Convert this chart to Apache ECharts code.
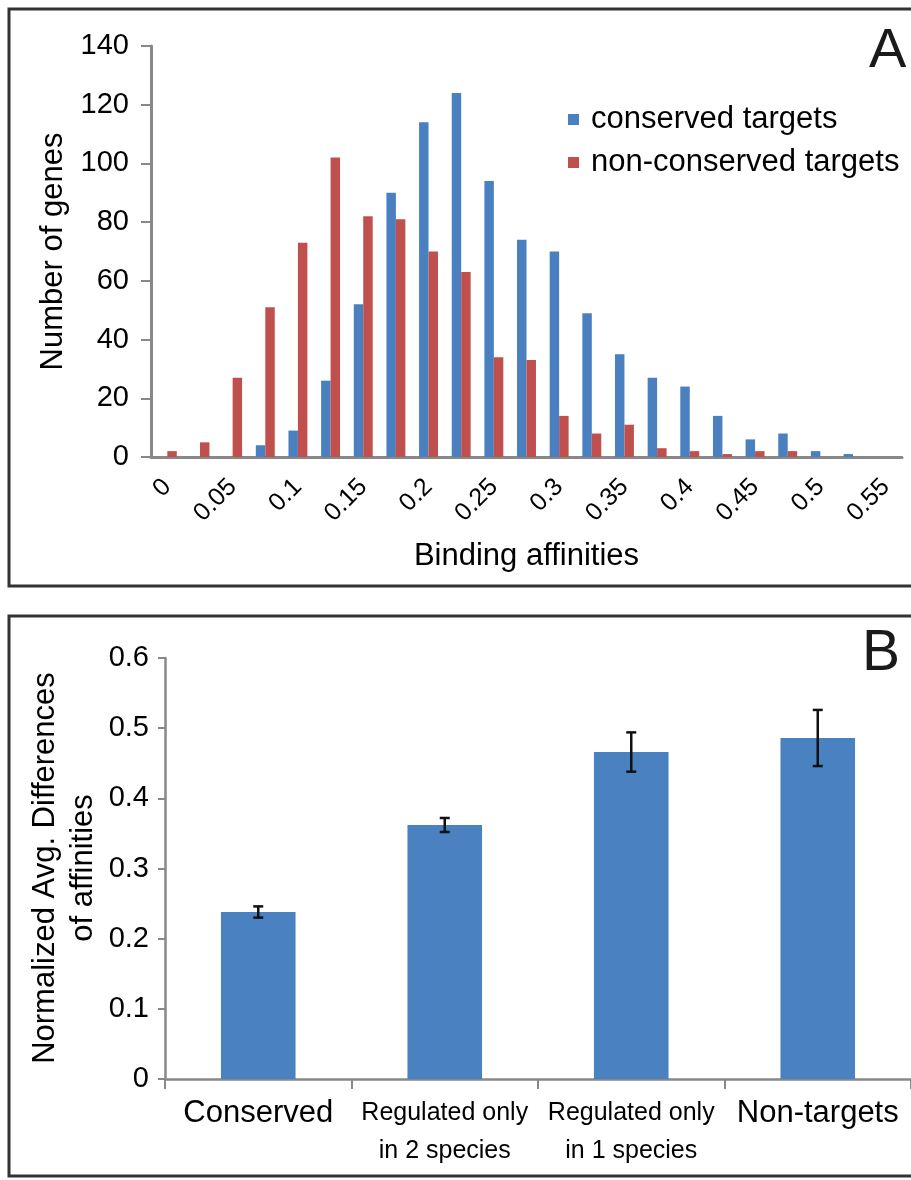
<!DOCTYPE html>
<html>
<head>
<meta charset="utf-8">
<script src="https://cdn.jsdelivr.net/npm/echarts@6/dist/echarts.min.js"></script>
<style>
html, body { margin: 0; padding: 0; background: #fff; }
#main { width: 911px; height: 1180px; }
</style>
</head>
<body>
<div id="main"></div>
<script>
// panel A: histogram of binding affinities
var affinities = ['0', '0.025', '0.05', '0.075', '0.1', '0.125', '0.15', '0.175', '0.2', '0.225', '0.25', '0.275',
    '0.3', '0.325', '0.35', '0.375', '0.4', '0.425', '0.45', '0.475', '0.5', '0.525', '0.55'];
var conservedGenes = [0, 0, 0, 4, 9, 26, 52, 90, 114, 124, 94, 74, 70, 49, 35, 27, 24, 14, 6, 8, 2, 1, 0];
var nonConservedGenes = [2, 5, 27, 51, 73, 102, 82, 81, 70, 63, 34, 33, 14, 8, 11, 3, 2, 1, 2, 2, 0, 0, 0];

// panel B: normalized average differences with error bars
var groups = ['Conserved', 'Regulated only\nin 2 species', 'Regulated only\nin 1 species', 'Non-targets'];
var avgDiff = [0.238, 0.362, 0.466, 0.486];
var errDiff = [0.008, 0.010, 0.028, 0.040];

var FONT = "'Liberation Sans', Arial, Helvetica, sans-serif";

var errData = [];
for (i = 0; i < avgDiff.length; i++) {
    errData.push([i, avgDiff[i] - errDiff[i], avgDiff[i] + errDiff[i]]);
}

var dom = document.getElementById('main');
var myChart = echarts.init(dom);
var option = {
    animation: false,
    textStyle: { fontFamily: FONT, color: '#000' },
    graphic: [
        { type: 'rect', shape: { x: 9, y: 9, width: 920, height: 577 },
          style: { fill: 'none', stroke: '#333', lineWidth: 3 } },
        { type: 'rect', shape: { x: 9, y: 616, width: 920, height: 560 },
          style: { fill: 'none', stroke: '#333', lineWidth: 3 } },
        { type: 'text', left: 869, top: 24, style: { text: 'A', fontSize: 56, fontFamily: FONT, fill: '#1a1a1a' } },
        { type: 'text', left: 862, top: 626, style: { text: 'B', fontSize: 57, fontFamily: FONT, fill: '#1a1a1a' } },
        // y name of panel B, placed by hand
        { type: 'text', x: 64, y: 868, rotation: Math.PI / 2,
          style: { text: 'Normalized Avg. Differences\nof affinities', fontSize: 31, fontFamily: FONT, fill: '#000',
                   lineHeight: 38, align: 'center', verticalAlign: 'middle' } }
    ],
    legend: {
        data: ['conserved targets', 'non-conserved targets'],
        orient: 'vertical',
        left: 563,
        top: 99,
        icon: 'rect',
        itemWidth: 11,
        itemHeight: 11,
        itemGap: 12,
        textStyle: { fontSize: 31, fontFamily: FONT, color: '#000', padding: [0, 0, 0, 7] }
    },
    grid: [
        { left: 151, top: 46, width: 751, height: 411 },
        { left: 165, top: 658, width: 750, height: 421 }
    ],
    xAxis: [
        {
            type: 'category',
            gridIndex: 0,
            data: affinities,
            name: 'Binding affinities',
            nameLocation: 'middle',
            nameGap: 84,
            nameTextStyle: { fontSize: 31, color: '#000' },
            axisLine: { lineStyle: { color: '#888', width: 3 } },
            axisTick: { show: false },
            axisLabel: { interval: 1, rotate: 45, fontSize: 25, color: '#000', margin: 26 }
        },
        {
            type: 'category',
            gridIndex: 1,
            data: groups,
            axisLine: { lineStyle: { color: '#888', width: 2.5 } },
            axisTick: { show: true, interval: 0, length: 10, lineStyle: { color: '#888', width: 2 } },
            axisLabel: {
                interval: 0,
                margin: 15,
                formatter: function (v) {
                    if (v.indexOf('\n') >= 0) {
                        return v.split('\n').map(function (s) { return '{n|' + s + '}'; }).join('\n');
                    }
                    return '{w|' + v + '}';
                },
                rich: {
                    w: { fontSize: 31, fontFamily: FONT, color: '#000', lineHeight: 38 },
                    n: { fontSize: 25, fontFamily: FONT, color: '#000', lineHeight: 38 }
                }
            }
        }
    ],
    yAxis: [
        {
            type: 'value',
            gridIndex: 0,
            min: 0,
            max: 140,
            interval: 20,
            name: 'Number of genes',
            nameLocation: 'middle',
            nameGap: 82,
            nameTextStyle: { fontSize: 31, color: '#000' },
            splitLine: { show: false },
            axisLine: { show: true, lineStyle: { color: '#888', width: 3 } },
            axisTick: { show: true, length: 10, lineStyle: { color: '#888', width: 2 } },
            axisLabel: { fontSize: 29, color: '#000', margin: 22 }
        },
        {
            type: 'value',
            gridIndex: 1,
            min: 0,
            max: 0.6,
            interval: 0.1,
            splitLine: { show: false },
            axisLine: { show: true, lineStyle: { color: '#888', width: 2.5 } },
            axisTick: { show: true, length: 7, lineStyle: { color: '#888', width: 2 } },
            axisLabel: { fontSize: 29, color: '#000', margin: 16 }
        }
    ],
    series: [
        {
            name: 'conserved targets',
            type: 'bar',
            xAxisIndex: 0,
            yAxisIndex: 0,
            data: conservedGenes,
            barGap: '0%',
            barCategoryGap: '42%',
            itemStyle: { color: '#4a7fc0' }
        },
        {
            name: 'non-conserved targets',
            type: 'bar',
            xAxisIndex: 0,
            yAxisIndex: 0,
            data: nonConservedGenes,
            barGap: '0%',
            barCategoryGap: '42%',
            itemStyle: { color: '#c0504d' }
        },
        {
            name: 'avg',
            type: 'bar',
            xAxisIndex: 1,
            yAxisIndex: 1,
            data: avgDiff,
            barCategoryGap: '60%',
            itemStyle: { color: '#4a81c0' }
        },
        {
            name: 'err',
            type: 'custom',
            xAxisIndex: 1,
            yAxisIndex: 1,
            data: errData,
            z: 10,
            renderItem: function (params, api) {
                var lo = api.coord([api.value(0), api.value(1)]);
                var hi = api.coord([api.value(0), api.value(2)]);
                var w = 5;
                var st = { stroke: '#111', lineWidth: 2.5 };
                return {
                    type: 'group',
                    children: [
                        { type: 'line', shape: { x1: hi[0], y1: hi[1], x2: lo[0], y2: lo[1] }, style: st },
                        { type: 'line', shape: { x1: hi[0] - w, y1: hi[1], x2: hi[0] + w, y2: hi[1] }, style: st },
                        { type: 'line', shape: { x1: lo[0] - w, y1: lo[1], x2: lo[0] + w, y2: lo[1] }, style: st }
                    ]
                };
            }
        }
    ]
};
if (option && typeof option === "object") {
    myChart.setOption(option, true);
}
</script>
</body>
</html>
